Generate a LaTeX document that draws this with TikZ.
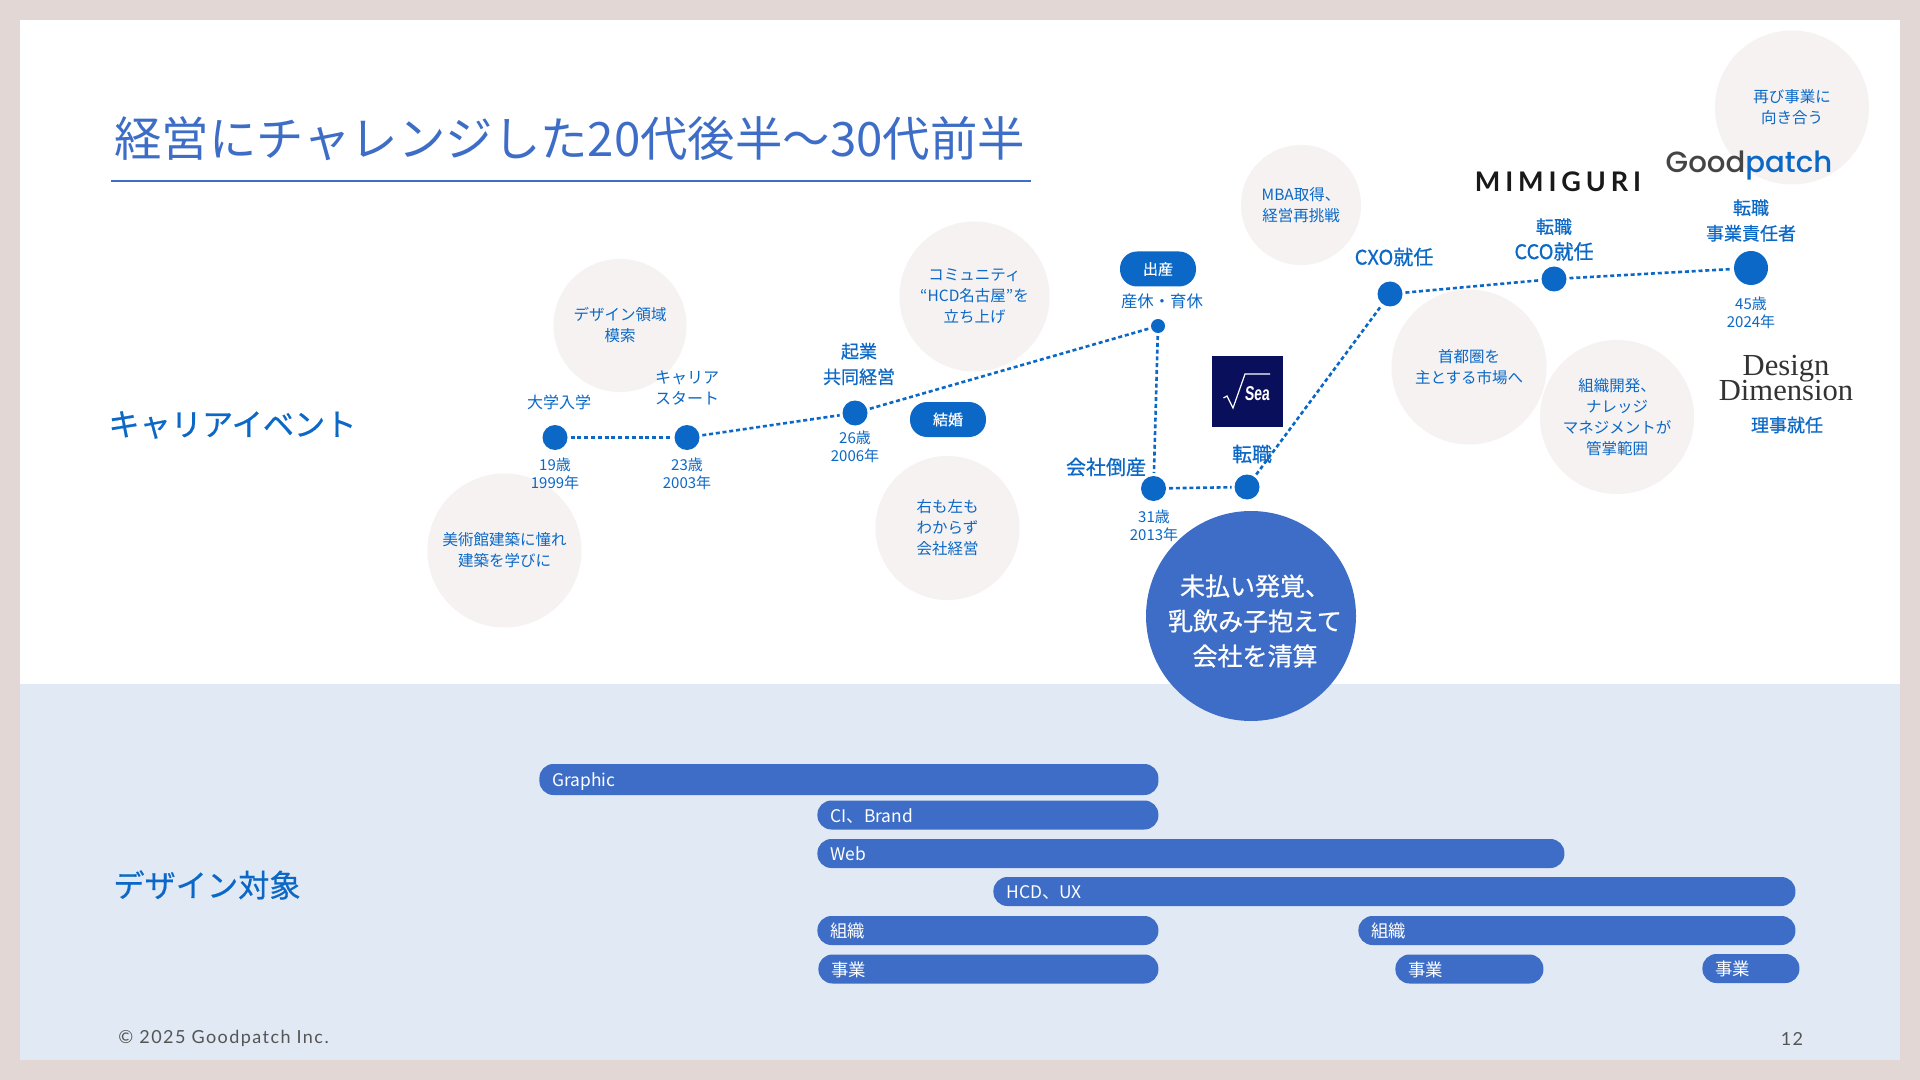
\documentclass[tikz,border=0pt]{standalone}
\usepackage{fontspec}
\usepackage{xcolor}
\usetikzlibrary{positioning}
\setmainfont{Noto Sans CJK JP}
\newfontfamily\medfont[FakeBold=0.6]{Noto Sans CJK JP}
\newfontfamily\goodfont{Poppins Medium}
\newfontfamily\mimifont[LetterSpace=18]{Lato Bold}
\newfontfamily\dimfont{Liberation Serif}
\newfontfamily\seafont[FakeStretch=0.7,FakeSlant=0.08]{Liberation Sans Bold}
\newfontfamily\footfont[LetterSpace=8]{Lato}
\definecolor{frameclr}{HTML}{E2D7D5}
\definecolor{bandclr}{HTML}{E1E9F5}
\definecolor{bubbleclr}{HTML}{F5F2F1}
\definecolor{dotclr}{HTML}{0B68C6}
\definecolor{barclr}{HTML}{3D6DC6}
\definecolor{navyclr}{HTML}{0A0F5C}
\definecolor{greyclr}{HTML}{555555}

\begin{document}
\begin{tikzpicture}[x=0.5pt,y=-0.5pt,node distance=0pt,
    bubble/.style={circle,fill=bubbleclr,text=dotclr,inner sep=0pt,align=center,
                   font=\fontsize{7.75}{10.5}\selectfont},
    dot/.style={circle,fill=dotclr,inner sep=0pt,minimum size=12.5pt,outer sep=1.5pt},
    link/.style={draw=dotclr,line width=1.3pt,dash pattern=on 2pt off 1.4pt},
    age/.style={text=dotclr,inner sep=0pt,align=center,
                font=\fontsize{7.5}{9}\selectfont},
    event/.style={text=dotclr,inner sep=0pt,align=center,
                  font=\fontsize{8}{10.5}\selectfont},
    major/.style={text=dotclr,inner sep=0pt,align=center,
                  font=\medfont\fontsize{9}{12.8}\selectfont},
    pill/.style={fill=dotclr,text=white,rounded corners=8.5pt,inner sep=0pt,
                 minimum width=38pt,minimum height=17.5pt,
                 font=\medfont\fontsize{7.5}{9}\selectfont},
    section/.style={text=dotclr,inner sep=0pt,anchor=west,
                    font=\medfont\fontsize{15.6}{18}\selectfont},
    bar/.style={fill=barclr,text=white,rounded corners=7pt,anchor=west,
                inner xsep=6.5pt,inner ysep=0pt,minimum height=14.5pt,
                text height=8.2pt,text depth=0.8pt,
                text width=#1,align=left,font=\fontsize{8.7}{10}\selectfont}]
    \fill[frameclr] (0,0) rectangle (1920,1080);
    \fill[white] (20,20) rectangle (1900,684);
    \fill[bandclr] (20,684) rectangle (1900,1060);

    \node[inner sep=0pt,anchor=west,text=barclr,font=\fontsize{23.7}{28}\selectfont] (title) at (114,138.5) {経営にチャレンジした20代後半〜30代前半};
    \coordinate (ruleL) at (111,181.5);
    \coordinate (ruleR) at (1031,181.5);
    \draw[barclr,line width=1pt] (ruleL) -- (ruleR);

    \node[section] (career) at (108,425) {キャリアイベント};
    \node[section] (target) at (113,885) {デザイン対象};

    \node[bubble,minimum size=154pt/2] (museum) at (504.5,550.5) {美術館建築に憧れ\\建築を学びに};
    \node[bubble,minimum size=133pt/2] (search) at (620,325.5) {デザイン領域\\模索};
    \node[bubble,minimum size=150pt/2] (community) at (974.5,296.5) {コミュニティ\\“HCD名古屋”を\\立ち上げ};
    \node[bubble,minimum size=144pt/2] (manage) at (947.5,528) {右も左も\\わからず\\会社経営};
    \node[bubble,minimum size=120pt/2] (mba) at (1301,205) {MBA取得、\\経営再挑戦};
    \node[bubble,minimum size=155pt/2] (metro) at (1469,367) {首都圏を\\主とする市場へ};
    \node[bubble,minimum size=154pt/2] (scope) at (1617,417) {組織開発、\\ナレッジ\\マネジメントが\\管掌範囲};
    \node[bubble,minimum size=154pt/2] (again) at (1792,107.5) {再び事業に\\向き合う};

    \node[dot] (entrance) at (555,437.5) {};
    \node[dot] (start) at (687,437.5) {};
    \node[dot] (founding) at (855,413) {};
    \node[dot,minimum size=7pt] (birth) at (1158,326) {};
    \node[dot] (closing) at (1153.5,488.5) {};
    \node[dot] (move) at (1247,487) {};
    \node[dot] (cxo) at (1390,294) {};
    \node[dot] (cco) at (1554,279) {};
    \node[dot,minimum size=17pt] (lead) at (1751,268) {};

    \draw[link] (entrance) -- (start);
    \draw[link] (start) -- (founding);
    \draw[link] (founding) -- (birth);
    \draw[link] (birth) -- (closing);
    \draw[link] (closing) -- (move);
    \draw[link] (move) -- (cxo);
    \draw[link] (cxo) -- (cco);
    \draw[link] (cco) -- (lead);

    \node[event,above=6pt of entrance,xshift=2pt] (entranceL) {大学入学};
    \node[age,below=2pt of entrance] (entranceA) {19歳\\1999年};
    \node[event,above=8pt of start] (startL) {キャリア\\スタート};
    \node[age,below=2pt of start] (startA) {23歳\\2003年};
    \node[major,above=6pt of founding,xshift=2pt] (foundingL) {起業\\共同経営};
    \node[age,below=1pt of founding] (foundingA) {26歳\\2006年};
    \node[event,above=3.5pt of birth,xshift=2pt,font=\fontsize{8.2}{10.5}\selectfont] (birthL) {産休・育休};
    \node[pill] (birthP) at (1158,269) {出産};
    \node[pill] (marriage) at (948,419.5) {結婚};
    \node[major,font=\medfont\fontsize{10}{12}\selectfont] (closingL) at (1106,467) {会社倒産};
    \node[age] (closingA) at (1154,526) {31歳\\2013年};
    \node[major,font=\medfont\fontsize{10}{12}\selectfont] (moveL) at (1252,454) {転職};
    \node[major,font=\medfont\fontsize{10}{12}\selectfont] (cxoL) at (1394,257) {CXO就任};
    \node[major] (ccoL) at (1554,239.5) {転職\\{\fontsize{10}{12.8}\selectfont CCO就任}};
    \node[major] (leadL) at (1751,220.5) {転職\\事業責任者};
    \node[age,below=4.5pt of lead] (leadA) {45歳\\2024年};
    \node[major] (board) at (1787,425) {理事就任};

    \node[circle,fill=barclr,inner sep=0pt,minimum size=105pt] (crisis) at (1251,616) {};
    \node[text=white,inner sep=0pt,align=center,font=\medfont\fontsize{12.5}{17.5}\selectfont] (crisisT) at (1255,621) {未払い発覚、\\乳飲み子抱えて\\会社を清算};

    \node[fill=navyclr,inner sep=0pt,minimum width=35.5pt,minimum height=35.5pt] (sea) at (1247.5,391.5) {};
    \coordinate (rootA) at (1223.5,398);
    \coordinate (rootB) at (1227,396);
    \coordinate (rootC) at (1233,408);
    \coordinate (rootD) at (1245,374);
    \coordinate (rootE) at (1270,374);
    \draw[white,line width=0.6pt] (rootA) -- (rootB) -- (rootC) -- (rootD) -- (rootE);
    \node[text=white,inner sep=0pt,font=\seafont\fontsize{10}{12}\selectfont] (seaT) at (1257,394) {Sea};

    \node[inner sep=0pt,text=black!90,font=\mimifont\fontsize{13.5}{14}\selectfont] (mimiguri) at (1558,182) {MIMIGURI};
    \node[inner sep=0pt,font=\goodfont\fontsize{14.6}{18}\selectfont] (goodpatch) at (1749,166) {\textcolor{greyclr!80!black}{Good}\textcolor{dotclr}{patch}};
    \node[inner sep=0pt,align=center,text=black!80,font=\dimfont\fontsize{15.3}{11.5}\selectfont] (dimension) at (1786,378) {Design\\[-2pt]Dimension};

    \node[bar=296.5pt,minimum height=15.5pt] (graphic) at (539,779.5) {Graphic};
    \node[bar=157.5pt] (brand) at (817,815) {CI、Brand};
    \node[bar=360.5pt] (web) at (817,853.5) {Web};
    \node[bar=388pt] (hcd) at (993,891.5) {HCD、UX};
    \node[bar=157.5pt] (orgA) at (817,930.5) {組織};
    \node[bar=205.5pt] (orgB) at (1358,930.5) {組織};
    \node[bar=157pt] (bizA) at (818,969) {事業};
    \node[bar=61pt] (bizB) at (1395,969) {事業};
    \node[bar=35.5pt] (bizC) at (1702,968.5) {事業};

    \node[inner sep=0pt,anchor=west,text=greyclr,font=\footfont\fontsize{9}{11}\selectfont] (copyright) at (118,1038) {© 2025 Goodpatch Inc.};
    \node[inner sep=0pt,text=greyclr,font=\footfont\fontsize{9}{11}\selectfont] (page) at (1792,1039) {12};
  \end{tikzpicture}
\end{document}
